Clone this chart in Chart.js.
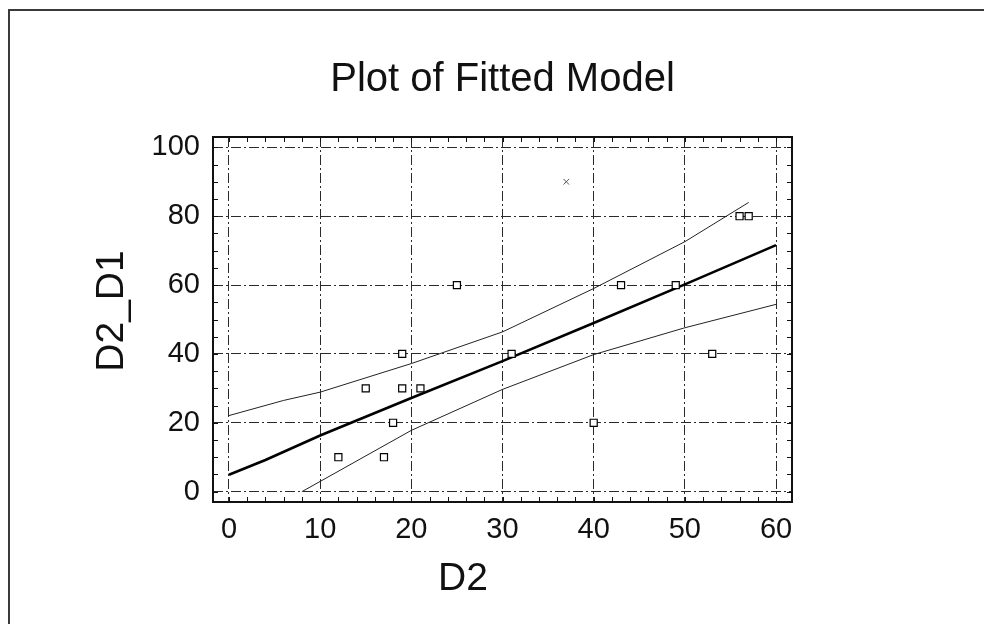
<!DOCTYPE html>
<html>
<head>
<meta charset="utf-8">
<title>Plot of Fitted Model</title>
<script src="https://cdn.jsdelivr.net/npm/chart.js@4.4.0/dist/chart.umd.min.js"></script>
<style>
  html, body { margin: 0; padding: 0; background: #fff; }
  #wrap { position: relative; width: 984px; height: 624px; }
  /* scanned page edge: only left and top borders show */
  #frame {
    position: absolute; left: 8px; top: 9px; right: 0; bottom: 0;
    border-left: 2px solid #3a3a3a; border-top: 2px solid #3a3a3a;
    pointer-events: none;
  }
</style>
</head>
<body>
<div id="wrap">
  <canvas id="fitChart"></canvas>
  <div id="frame"></div>
</div>
<script>
// Observations (D2, D2_D1)
const obsD2 = [12, 15, 17, 18, 19, 19, 21, 25, 31, 40, 43, 49, 53, 56, 57];
const obsD2D1 = [10, 30, 10, 20, 40, 30, 30, 60, 40, 20, 60, 60, 40, 80, 80];

// excluded point drawn as a small x
const exclD2 = [37];
const exclD2D1 = [90];

// fitted line
const fitD2 = [0, 4, 10, 20, 30, 40, 50, 60];
const fitD2D1 = [4.9, 9.2, 16.3, 27.2, 37.9, 49.0, 60.2, 71.6];

// upper / lower limits
const upperD2 = [0, 6, 10, 20, 30, 40, 50, 57];
const upperD2D1 = [22.1, 26.5, 28.9, 37.2, 46.4, 59.0, 72.6, 84.0];
const lowerD2 = [8, 20, 30, 40, 50, 60];
const lowerD2D1 = [0, 17.8, 29.7, 39.8, 47.6, 54.4];

// axes
const xMin = -1.75, xMax = 61.75, xStep = 10, xMinorStep = 2;
const yMin = -3, yMax = 103, yStep = 20, yMinorStep = 5;

const chartTitle = "Plot of Fitted Model";
const xTitle = "D2";
const yTitle = "D2_D1";

const FONT = "'Liberation Sans', Arial, Helvetica, sans-serif";

function toPoints(xs, ys) {
  return xs.map((x, i) => ({ x: x, y: ys[i] }));
}

// frame around the plot + small inward tick marks on all four sides
const frameTicks = {
  id: "frameTicks",
  afterDatasetsDraw(chart) {
    const { ctx, chartArea: a } = chart;
    const sx = chart.scales.x;
    const sy = chart.scales.y;
    ctx.save();
    ctx.strokeStyle = "#111";
    ctx.lineWidth = 1;
    ctx.beginPath();
    for (let v = 0; v <= 60; v += xMinorStep) {
      const px = Math.round(sx.getPixelForValue(v)) + 0.5;
      ctx.moveTo(px, a.bottom);
      ctx.lineTo(px, a.bottom - 5);
      ctx.moveTo(px, a.top);
      ctx.lineTo(px, a.top + 5);
    }
    for (let v = 0; v <= 100; v += yMinorStep) {
      const py = Math.round(sy.getPixelForValue(v)) + 0.5;
      ctx.moveTo(a.left, py);
      ctx.lineTo(a.left + 5, py);
      ctx.moveTo(a.right, py);
      ctx.lineTo(a.right - 5, py);
    }
    ctx.stroke();
    ctx.lineWidth = 2;
    ctx.strokeRect(a.left, a.top, a.right - a.left, a.bottom - a.top);
    ctx.restore();
  },
};

// axis titles (the x title sits left of centre in the original)
const axisTitles = {
  id: "axisTitles",
  afterDraw(chart) {
    const { ctx, chartArea: a } = chart;
    ctx.save();
    ctx.fillStyle = "#111";
    ctx.font = "39px " + FONT;
    ctx.textAlign = "center";
    ctx.textBaseline = "middle";
    ctx.fillText(xTitle, a.left + 250, a.bottom + 77);
    ctx.translate(a.left - 101, a.top + 174);
    ctx.rotate(-Math.PI / 2);
    ctx.fillText(yTitle, 0, 0);
    ctx.restore();
  },
};

document.addEventListener("DOMContentLoaded", function () {
  const ctx = document.getElementById("fitChart");

  new Chart(ctx, {
    type: "scatter",
    data: {
      datasets: [
        {
          label: "Observed",
          data: toPoints(obsD2, obsD2D1),
          pointStyle: "rect",
          pointRadius: 5,
          borderColor: "#000",
          backgroundColor: "#fff",
          borderWidth: 1.2,
        },
        {
          label: "Excluded",
          data: toPoints(exclD2, exclD2D1),
          pointStyle: "crossRot",
          pointRadius: 4,
          borderColor: "#555",
          borderWidth: 1,
        },
        {
          label: "Fitted",
          data: toPoints(fitD2, fitD2D1),
          showLine: true,
          pointRadius: 0,
          borderColor: "#000",
          borderWidth: 2.6,
          tension: 0,
        },
        {
          label: "Upper",
          data: toPoints(upperD2, upperD2D1),
          showLine: true,
          pointRadius: 0,
          borderColor: "#222",
          borderWidth: 1,
          tension: 0,
        },
        {
          label: "Lower",
          data: toPoints(lowerD2, lowerD2D1),
          showLine: true,
          pointRadius: 0,
          borderColor: "#222",
          borderWidth: 1,
          tension: 0,
        },
      ],
    },
    options: {
      responsive: true,
      maintainAspectRatio: false,
      animation: false,
      layout: { padding: { top: 0, left: 0, right: 192, bottom: 0 } },
      plugins: {
        legend: { display: false },
        tooltip: { enabled: false },
        title: {
          display: true,
          text: chartTitle,
          fullSize: false,
          color: "#111",
          font: { family: FONT, size: 40, weight: "normal", lineHeight: 1.2 },
          padding: { top: 56, bottom: 33 },
        },
      },
      scales: {
        x: {
          type: "linear",
          min: xMin,
          max: xMax,
          afterFit(scale) {
            scale.height = 122;
          },
          ticks: {
            stepSize: xStep,
            includeBounds: false,
            autoSkip: false,
            maxRotation: 0,
            padding: 11,
            color: "#111",
            font: { family: FONT, size: 29 },
          },
          grid: { color: "#2a2a2a", lineWidth: 1, drawTicks: false },
          border: { display: false, dash: [10, 3, 2, 3] },
        },
        y: {
          type: "linear",
          min: yMin,
          max: yMax,
          afterFit(scale) {
            scale.width = 213;
          },
          ticks: {
            stepSize: yStep,
            includeBounds: false,
            padding: 13,
            color: "#111",
            font: { family: FONT, size: 29 },
          },
          grid: { color: "#2a2a2a", lineWidth: 1, drawTicks: false },
          border: { display: false, dash: [10, 3, 2, 3] },
        },
      },
    },
    plugins: [frameTicks, axisTitles],
  });
});
</script>
</body>
</html>
